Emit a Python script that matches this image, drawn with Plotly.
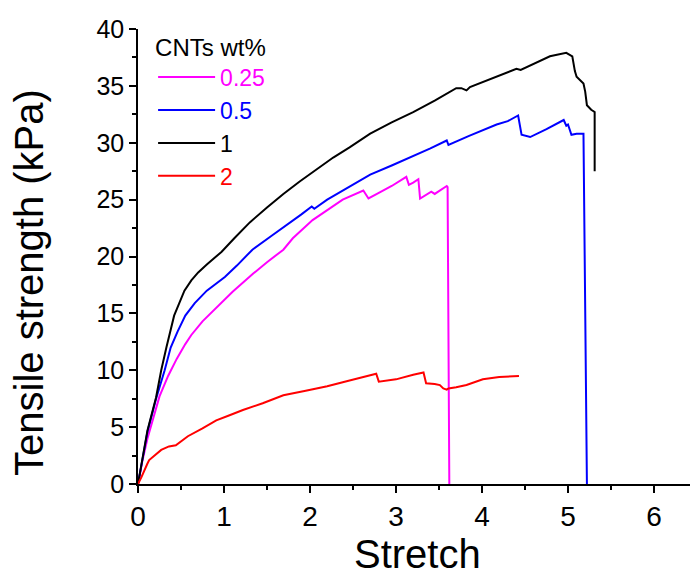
import plotly.graph_objects as go

# ---- data ----
series_names = ["0.25", "0.5", "1", "2"]
series_colors = ["#FF00FF", "#0000FF", "#000000", "#FF0000"]

x_025 = [0, 0.05, 0.11, 0.15, 0.25, 0.35, 0.45, 0.55, 0.62, 0.75, 0.93, 1.10, 1.34, 1.50, 1.69, 1.80,
         2.03, 2.20, 2.38, 2.62, 2.66, 2.68, 2.80, 2.95, 3.12, 3.15, 3.20, 3.26, 3.28, 3.35, 3.41, 3.45,
         3.59, 3.60, 3.62]
y_025 = [0, 2.0, 4.0, 5.0, 7.7, 9.5, 11.0, 12.3, 13.1, 14.3, 15.6, 16.9, 18.5, 19.5, 20.6, 21.6,
         23.2, 24.1, 25.0, 25.8, 25.3, 25.1, 25.6, 26.2, 27.0, 26.3, 26.5, 26.8, 25.1, 25.4, 25.7, 25.5,
         26.2, 26.1, 0]

x_05 = [0, 0.05, 0.11, 0.21, 0.31, 0.38, 0.46, 0.55, 0.66, 0.80, 1.01, 1.15, 1.33, 1.55, 1.76, 1.90,
        2.02, 2.05, 2.20, 2.42, 2.70, 2.95, 3.20, 3.40, 3.59, 3.61, 3.85, 4.17, 4.30, 4.42, 4.46, 4.56,
        4.75, 4.95, 4.98, 5.00, 5.04, 5.10, 5.18, 5.22]
y_05 = [0, 2.0, 4.6, 7.5, 10.0, 12.0, 13.4, 14.8, 15.9, 17.0, 18.2, 19.2, 20.6, 21.8, 22.9, 23.7,
        24.4, 24.2, 25.0, 26.0, 27.2, 28.0, 28.8, 29.5, 30.2, 29.8, 30.6, 31.6, 31.9, 32.4, 30.7, 30.5,
        31.2, 32.0, 31.5, 31.6, 30.7, 30.8, 30.8, 0]

x_1 = [0, 0.05, 0.11, 0.21, 0.27, 0.33, 0.37, 0.42, 0.48, 0.54, 0.62, 0.70, 0.80, 0.97, 1.12, 1.30,
       1.50, 1.69, 1.88, 2.07, 2.27, 2.46, 2.70, 2.95, 3.20, 3.45, 3.70, 3.76, 3.82, 3.86, 4.10, 4.40,
       4.45, 4.56, 4.79, 4.98, 5.05, 5.08, 5.10, 5.18, 5.20, 5.22, 5.27, 5.31, 5.31]
y_1 = [0, 2.0, 4.7, 7.6, 10.0, 12.0, 13.3, 14.8, 15.9, 17.0, 17.9, 18.6, 19.3, 20.4, 21.6, 23.0,
       24.3, 25.5, 26.6, 27.6, 28.7, 29.6, 30.8, 31.8, 32.7, 33.7, 34.8, 34.8, 34.6, 34.9, 35.6, 36.5,
       36.4, 36.8, 37.6, 37.9, 37.6, 36.3, 35.8, 35.2, 34.5, 33.3, 32.9, 32.7, 27.5]

x_2 = [0, 0.04, 0.11, 0.13, 0.27, 0.36, 0.44, 0.58, 0.75, 0.91, 1.05, 1.22, 1.45, 1.69, 1.95, 2.20,
       2.46, 2.65, 2.77, 2.80, 3.00, 3.20, 3.32, 3.35, 3.45, 3.51, 3.55, 3.59, 3.61, 3.70, 3.82, 4.01,
       4.20, 4.43]
y_2 = [0, 0.6, 1.8, 2.1, 3.0, 3.3, 3.4, 4.2, 4.9, 5.6, 6.0, 6.5, 7.1, 7.8, 8.2, 8.6,
       9.1, 9.5, 9.7, 9.0, 9.2, 9.6, 9.8, 8.85, 8.8, 8.7, 8.4, 8.3, 8.4, 8.5, 8.7, 9.2,
       9.4, 9.5]

x_ticks = [0, 1, 2, 3, 4, 5, 6]
y_ticks = [0, 5, 10, 15, 20, 25, 30, 35, 40]

xs = [x_025, x_05, x_1, x_2]
ys = [y_025, y_05, y_1, y_2]

FONT = "Liberation Sans, Arial, sans-serif"

fig = go.Figure()
for name, color, x, y in zip(series_names, series_colors, xs, ys):
    fig.add_trace(go.Scatter(
        x=x, y=y, mode="lines", line=dict(color=color, width=2),
        name=f"<span style='color:{color}'>{name}</span>"))

axis_common = dict(
    showline=True, linecolor="black", linewidth=1.5, mirror=False,
    showgrid=False, zeroline=False,
    ticks="outside", ticklen=7, tickwidth=1.5, tickcolor="black",
)

fig.update_xaxes(range=[0, 6.5], tickvals=x_ticks, **axis_common,
                 tickfont=dict(family=FONT, size=28, color="black"),
                 minor=dict(ticks="outside", ticklen=4, tickwidth=1.5, tickcolor="black", dtick=0.5, showgrid=False))
fig.update_yaxes(range=[0, 40], tickvals=y_ticks, **axis_common,
                 tickfont=dict(family=FONT, size=25, color="black"),
                 minor=dict(ticks="outside", ticklen=4, tickwidth=1.5, tickcolor="black", dtick=2.5, showgrid=False))

# the page body adds an 8px offset, so the figure is sized 8px smaller
fig.update_layout(
    width=690, height=571,
    margin=dict(l=130, r=1, t=21, b=95),
    plot_bgcolor="white", paper_bgcolor="white",
    font=dict(family=FONT, color="black"),
    showlegend=True,
    legend=dict(
        x=0.027, y=1.01, xanchor="left", yanchor="top",
        bgcolor="rgba(0,0,0,0)", borderwidth=0,
        title=dict(text="CNTs wt%", font=dict(family=FONT, size=24, color="black")),
        font=dict(family=FONT, size=23),
        itemwidth=57,
        tracegroupgap=0,
    ),
    annotations=[
        dict(text="Tensile strength (kPa)", textangle=-90, xref="paper", yref="paper",
             x=-0.195, y=0.444, xanchor="center", yanchor="middle", showarrow=False,
             font=dict(family=FONT, size=40, color="black")),
        dict(text="Stretch", xref="paper", yref="paper",
             x=0.5, y=-0.10, xanchor="center", yanchor="top", showarrow=False,
             font=dict(family=FONT, size=40, color="black")),
    ],
)

fig.write_html("out.html")
